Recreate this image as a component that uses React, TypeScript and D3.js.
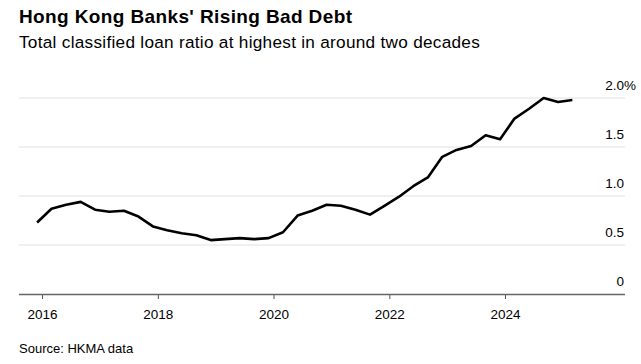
import React, { useEffect, useRef } from "react";
import * as d3 from "d3";

// quarterly total classified loan ratio, %, Q4 2015 .. Q1 2025
const quarters = [
  "2015-12", "2016-03", "2016-06", "2016-09", "2016-12",
  "2017-03", "2017-06", "2017-09", "2017-12",
  "2018-03", "2018-06", "2018-09", "2018-12",
  "2019-03", "2019-06", "2019-09", "2019-12",
  "2020-03", "2020-06", "2020-09", "2020-12",
  "2021-03", "2021-06", "2021-09", "2021-12",
  "2022-03", "2022-06", "2022-09", "2022-12",
  "2023-03", "2023-06", "2023-09", "2023-12",
  "2024-03", "2024-06", "2024-09", "2024-12",
  "2025-03"
];
const ratio = [
  0.73, 0.87, 0.91, 0.94, 0.86,
  0.84, 0.85, 0.79, 0.69,
  0.65, 0.62, 0.60, 0.55,
  0.56, 0.57, 0.56, 0.57,
  0.63, 0.80, 0.85, 0.91,
  0.90, 0.86, 0.81, 0.90,
  0.99, 1.10, 1.19, 1.40,
  1.47, 1.51, 1.62, 1.58,
  1.79, 1.89, 2.00, 1.96,
  1.98
];
const yTicks = [0, 0.5, 1.0, 1.5, 2.0];
const xTickYears = [2016, 2018, 2020, 2022, 2024];

const title = "Hong Kong Banks' Rising Bad Debt";
const subtitle = "Total classified loan ratio at highest in around two decades";
const source = "Source: HKMA data";

if (typeof document !== "undefined") document.body.style.margin = "0";

const App = () => {
  const ref = useRef<SVGSVGElement>(null);

  useEffect(() => {
    const svg = d3.select(ref.current);
    svg.selectAll("*").remove();

    const font = "'Liberation Sans', Arial, Helvetica, sans-serif";
    const left = 19;
    const right = 625;

    const data = quarters.map((q, i) => {
      const [yr, mo] = q.split("-").map(Number);
      return { date: new Date(yr, mo - 1, 1), value: ratio[i] };
    });

    const x = d3
      .scaleTime()
      .domain([new Date(2016, 0, 1), new Date(2024, 0, 1)])
      .range([42, 505]);
    const y = d3.scaleLinear().domain([0, 2]).range([294, 98]);

    svg
      .append("text")
      .attr("x", 19)
      .attr("y", 23)
      .attr("font-family", font)
      .attr("font-weight", "bold")
      .attr("font-size", 19)
      .attr("letter-spacing", 0.38)
      .attr("fill", "#000")
      .text(title);

    svg
      .append("text")
      .attr("x", 19)
      .attr("y", 47.5)
      .attr("font-family", font)
      .attr("font-size", 17.2)
      .attr("letter-spacing", 0.28)
      .attr("fill", "#000")
      .text(subtitle);

    // gridlines
    svg
      .append("g")
      .selectAll("line")
      .data(yTicks.filter(d => d > 0))
      .enter()
      .append("line")
      .attr("x1", left)
      .attr("x2", right)
      .attr("y1", d => y(d))
      .attr("y2", d => y(d))
      .attr("stroke", "#e1e1e1")
      .attr("stroke-width", 1);

    // y labels, right side above the lines
    const yl = svg.append("g").attr("font-family", font).attr("font-size", 13.5);
    yTicks.forEach(d => {
      const label = d === 0 ? "0" : d.toFixed(1);
      yl.append("text")
        .attr("x", right - 1)
        .attr("y", y(d) - 8.5)
        .attr("text-anchor", "end")
        .attr("fill", "#000")
        .text(label);
      if (d === 2) {
        yl.append("text")
          .attr("x", right - 1)
          .attr("y", y(d) - 8.5)
          .attr("fill", "#000")
          .text("%");
      }
    });

    // x axis
    const xAxis = d3
      .axisBottom(x)
      .tickValues(xTickYears.map(yr => new Date(yr, 0, 1)))
      .tickFormat(d3.timeFormat("%Y") as any)
      .tickSize(5)
      .tickSizeOuter(0);

    const ax = svg
      .append("g")
      .attr("transform", `translate(0,${y(0)})`)
      .call(xAxis);
    ax.select(".domain").remove();
    ax.selectAll(".tick line").attr("stroke", "#555");
    ax.selectAll(".tick text")
      .attr("font-family", font)
      .attr("font-size", 13.5)
      .attr("fill", "#000")
      .attr("dy", 0)
      .attr("y", 24.5);
    ax.append("line")
      .attr("x1", left)
      .attr("x2", right)
      .attr("y1", 0.5)
      .attr("y2", 0.5)
      .attr("stroke", "#666")
      .attr("stroke-width", 1.3);

    const line = d3
      .line<{ date: Date; value: number }>()
      .x(d => x(d.date))
      .y(d => y(d.value));

    svg
      .append("path")
      .datum(data)
      .attr("d", line)
      .attr("fill", "none")
      .attr("stroke", "#000")
      .attr("stroke-width", 2.6)
      .attr("stroke-linejoin", "round");

    svg
      .append("text")
      .attr("x", 19)
      .attr("y", 353)
      .attr("font-family", font)
      .attr("font-size", 13)
      .attr("fill", "#000")
      .text(source);
  }, []);

  return (
    <svg
      ref={ref}
      width={641}
      height={364}
      style={{ display: "block", background: "#fff" }}
    />
  );
};

export default App;
